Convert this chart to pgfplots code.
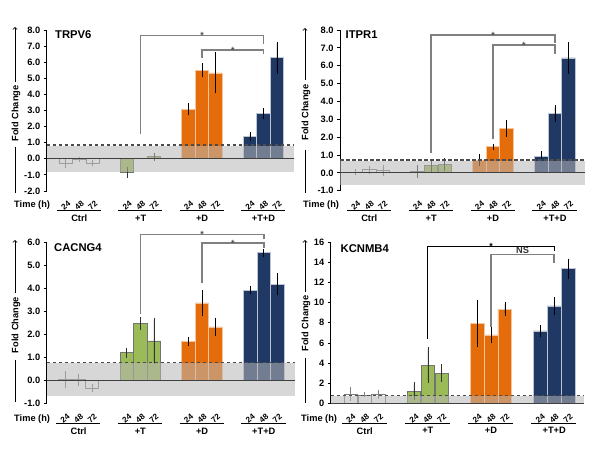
\documentclass[border=0pt]{standalone}
\usepackage{pgfplots}
\pgfplotsset{compat=1.18}
\usepackage{fontspec}
\setmainfont{Liberation Sans}
\definecolor{ctrlgray}{HTML}{7F7F7F}
\definecolor{tgreen}{HTML}{9BBB59}
\definecolor{dorange}{HTML}{E46C0A}
\definecolor{tdnavy}{HTML}{1F3864}
\definecolor{bandgray}{HTML}{B7B7B7}
\definecolor{brgray}{HTML}{808080}
\newcommand{\lf}{\bfseries\fontsize{9.3}{10}\selectfont}
\newcommand{\smf}{\bfseries\fontsize{8.1}{8.5}\selectfont}
\newcommand{\tf}{\bfseries\fontsize{11.3}{12}\selectfont}
\pgfplotsset{
  panel/.style={scale only axis, anchor=south west, clip=false,
    axis y line*=left, axis x line=none, xtick=\empty,
    y axis line style={line width=0.8bp, black},
    ytick style={line width=0.8bp, black},
    tick align=outside, major tick length=3bp,
    yticklabel style={font=\lf, /pgf/number format/assume math mode=true}},
  onedec/.style={yticklabel style={/pgf/number format/fixed, /pgf/number format/fixed zerofill, /pgf/number format/precision=1}},
  ebar/.style={/pgfplots/error bars/y dir=both, /pgfplots/error bars/y explicit,
    /pgfplots/error bars/error bar style={line width=0.7bp, #1},
    /pgfplots/error bars/error mark options={line width=0.7bp, mark size=2bp, #1}},
  ctrlbar/.style={ybar, bar width=0.98, bar shift=0pt, fill=white, draw=ctrlgray, line width=0.8bp, ebar=ctrlgray},
  tbar/.style={ybar, bar width=0.98, bar shift=0pt, fill=tgreen, draw=black!55, line width=0.8bp, ebar=black!80},
  dbar/.style={ybar, bar width=1.0, bar shift=0pt, fill=dorange, draw=white!60!dorange, line width=0.7bp, ebar=black},
  tdbar/.style={ybar, bar width=1.0, bar shift=0pt, fill=tdnavy, draw=white!70!tdnavy, line width=0.7bp, ebar=black},
}
% rotated time labels, underline and group name
\newcommand{\tl}[3]{\node[font=\smf, inner sep=0pt] at ([yshift=-14.8bp]axis cs:#1,#2) {\rotatebox{40}{#3}};}
\newcommand{\grp}[7]{\tl{#1}{#6}{24}\tl{#2}{#6}{48}\tl{#3}{#6}{72}%
  \draw[line width=1bp] ([yshift=-20bp]axis cs:#4,#6) -- ([yshift=-20bp]axis cs:#5,#6);%
  \node[font=\lf, inner sep=0pt] at ([yshift=-27.5bp]axis cs:#2,#6) {#7};}
\newcommand{\allgroups}[1]{\grp{1}{2}{3}{0.35}{3.6}{#1}{Ctrl}\grp{5.55}{6.55}{7.55}{4.9}{8.15}{#1}{+T}%
  \grp{10.1}{11.1}{12.1}{9.45}{12.7}{#1}{+D}\grp{14.65}{15.65}{16.65}{14.0}{17.25}{#1}{+T+D}}
% band: xmin xmax lo hi dash
\newcommand{\band}[5]{\fill[bandgray, fill opacity=0.55] (axis cs:#1,#3) rectangle (axis cs:#2,#4);%
  \draw[black!70, line width=1.3bp, dash pattern=on 3.5bp off 2.5bp] (axis cs:#1,#5) -- (axis cs:#2,#5);%
  \draw[black!75, line width=0.8bp] (axis cs:#1,0) -- (axis cs:#2,0);}
% bracket: x1 y1 x2 y2 ytop style
\newcommand{\brk}[6]{\draw[#6] (axis cs:#1,#2) -- (axis cs:#1,#5) -- (axis cs:#3,#5) -- (axis cs:#3,#4);}
\newcommand{\sigmark}[4]{\node[font=\bfseries\fontsize{9}{9}\selectfont, text=#4, anchor=base, inner sep=0pt] at ([yshift=-3.3bp]axis cs:#1,#2) {#3};}
\begin{document}
\begin{tikzpicture}
\useasboundingbox (0,0) rectangle (600bp,450bp);
\fill[white] (0,0) rectangle (600bp,450bp);
% ---------------- TRPV6
\begin{axis}[panel, onedec, at={(46.7bp,259bp)}, width=247.3bp, height=161bp,
  xmin=-0.41, xmax=17.91, ymin=-2, ymax=8, ytick={-2,-1,...,8}]
\addplot[ctrlbar] coordinates {(1,-0.29) +- (0,0.15) (2,-0.05) +- (0,0.05) (3,-0.28) +- (0,0.05)};
\addplot[tbar] coordinates {(5.55,-0.85) +- (0,0.21) (7.55,0.12) +- (0,0.13)};
\addplot[dbar] coordinates {(10.1,3.08) +- (0,0.25) (11.1,5.49) +- (0,0.31) (12.1,5.33) +- (0,1.15)};
\addplot[tdbar] coordinates {(14.65,1.37) +- (0,0.17) (15.65,2.8) +- (0,0.23) (16.65,6.27) +- (0,0.89)};
\band{-0.41}{17.91}{-0.8}{0.8}{0.85}
\brk{6.55}{1.53}{15.65}{7.12}{7.66}{brgray, line width=1.6bp}
\brk{11.1}{6.27}{15.65}{6.5}{6.75}{brgray, line width=1.6bp}
\sigmark{11.1}{7.66}{*}{black!70}
\sigmark{13.375}{6.75}{*}{black!70}
\allgroups{-2}
\end{axis}
% ---------------- ITPR1
\begin{axis}[panel, onedec, at={(340bp,259.3bp)}, width=245bp, height=160.7bp,
  xmin=-0.15, xmax=17.86, ymin=-1, ymax=8, ytick={-1,0,...,8}]
\addplot[ctrlbar] coordinates {(1,0.05) +- (0,0.07) (2,0.17) +- (0,0.1) (3,0.11) +- (0,0.2)};
\addplot[tbar] coordinates {(5.55,0.1) +- (0,0.25) (6.55,0.39) +- (0,0.24) (7.55,0.46) +- (0,0.24)};
\addplot[dbar] coordinates {(10.1,0.71) +- (0,0.22) (11.1,1.46) +- (0,0.05) (12.1,2.48) +- (0,0.34)};
\addplot[tdbar] coordinates {(14.65,0.91) +- (0,0.21) (15.65,3.33) +- (0,0.35) (16.65,6.44) +- (0,0.78)};
\band{-0.15}{17.86}{-0.7}{0.68}{0.72}
\brk{6.55}{1.12}{15.65}{7.25}{7.72}{brgray, line width=1.6bp}
\brk{11.1}{1.92}{15.65}{6.68}{7.16}{brgray, line width=1.6bp}
\sigmark{11.1}{7.72}{*}{black!70}
\sigmark{13.375}{7.16}{*}{black!70}
\allgroups{-1}
\end{axis}
% ---------------- CACNG4
\begin{axis}[panel, onedec, at={(46.7bp,46.3bp)}, width=248.3bp, height=161.4bp,
  xmin=-0.35, xmax=17.95, ymin=-1, ymax=6, ytick={-1,0,...,6}]
\addplot[ctrlbar] coordinates {(1,0.04) +- (0,0.27) (2,0.04) +- (0,0.18) (3,-0.33) +- (0,0.08)};
\addplot[tbar] coordinates {(5.55,1.21) +- (0,0.14) (6.55,2.48) +- (0,0.2) (7.55,1.72) +- (0,0.9)};
\addplot[dbar] coordinates {(10.1,1.69) +- (0,0.1) (11.1,3.37) +- (0,0.47) (12.1,2.33) +- (0,0.31)};
\addplot[tdbar] coordinates {(14.65,3.93) +- (0,0.1) (15.65,5.55) +- (0,0.08) (16.65,4.18) +- (0,0.4)};
\band{-0.35}{17.95}{-0.68}{0.77}{0.8}
\brk{6.55}{2.89}{15.65}{6.16}{6.33}{brgray, line width=1.6bp}
\brk{11.1}{4.22}{15.65}{5.74}{5.97}{brgray, line width=1.6bp}
\sigmark{11.1}{6.33}{*}{black!70}
\sigmark{13.375}{5.97}{*}{black!70}
\allgroups{-1}
\end{axis}
% ---------------- KCNMB4
\begin{axis}[panel, at={(330.7bp,46.7bp)}, width=253.6bp, height=161bp,
  xmin=-0.45, xmax=17.82, ymin=0, ymax=16, ytick={0,2,...,16}]
\addplot[ctrlbar] coordinates {(1,0.9) +- (0,0.5) (2,0.83) +- (0,0.05) (3,0.92) +- (0,0.25)};
\addplot[tbar] coordinates {(5.55,1.22) +- (0,0.66) (6.55,3.8) +- (0,1.57) (7.55,2.98) +- (0,0.68)};
\addplot[dbar] coordinates {(10.1,7.95) +- (0,2.15) (11.1,6.79) +- (0,0.56) (12.1,9.37) +- (0,0.45)};
\addplot[tdbar] coordinates {(14.65,7.19) +- (0,0.36) (15.65,9.67) +- (0,0.66) (16.65,13.38) +- (0,0.8)};
\band{-0.45}{17.82}{0}{0.75}{0.8}
\brk{6.55}{6.4}{15.65}{15.1}{15.63}{black, line width=0.9bp}
\brk{11.1}{7.6}{15.65}{13.95}{14.8}{brgray, line width=1.6bp}
\sigmark{11.1}{15.63}{*}{black}
\node[font=\lf, text=black!80, anchor=south, inner sep=0.8bp] at (axis cs:13.375,14.8) {NS};
\allgroups{0}
\end{axis}
% ---------------- titles, y labels, Time labels
\node[font=\tf, anchor=west, inner sep=0pt] at (55bp,415.5bp) {TRPV6};
\node[font=\tf, anchor=west, inner sep=0pt] at (345.5bp,415bp) {ITPR1};
\node[font=\tf, anchor=west, inner sep=0pt] at (54bp,202bp) {CACNG4};
\node[font=\tf, anchor=west, inner sep=0pt] at (340.5bp,201bp) {KCNMB4};
\begin{scope}[line width=0.8bp]
\draw[->] (15bp,368bp) -- (15bp,423bp);
\draw (15bp,303bp) -- (15bp,257bp);
\node[font=\lf, rotate=90, inner sep=0pt] at (16bp,336.5bp) {Fold Change};
\draw[->] (305bp,370bp) -- (305bp,422bp);
\draw (305bp,300bp) -- (305bp,257.3bp);
\node[font=\lf, rotate=90, inner sep=0pt] at (306bp,337.5bp) {Fold Change};
\draw[->] (15bp,157bp) -- (15bp,210bp);
\draw (15bp,90bp) -- (15bp,48bp);
\node[font=\lf, rotate=90, inner sep=0pt] at (16bp,125bp) {Fold Change};
\draw[->] (305bp,158.3bp) -- (305bp,210bp);
\draw (305bp,92bp) -- (305bp,47bp);
\node[font=\lf, rotate=90, inner sep=0pt] at (306bp,126.7bp) {Fold Change};
\end{scope}
\node[font=\lf, anchor=west, inner sep=0pt] at (14bp,244.5bp) {Time (h)};
\node[font=\lf, anchor=west, inner sep=0pt] at (303bp,244.5bp) {Time (h)};
\node[font=\lf, anchor=west, inner sep=0pt] at (14bp,31bp) {Time (h)};
\node[font=\lf, anchor=west, inner sep=0pt] at (301bp,31bp) {Time (h)};
\end{tikzpicture}
\end{document}
